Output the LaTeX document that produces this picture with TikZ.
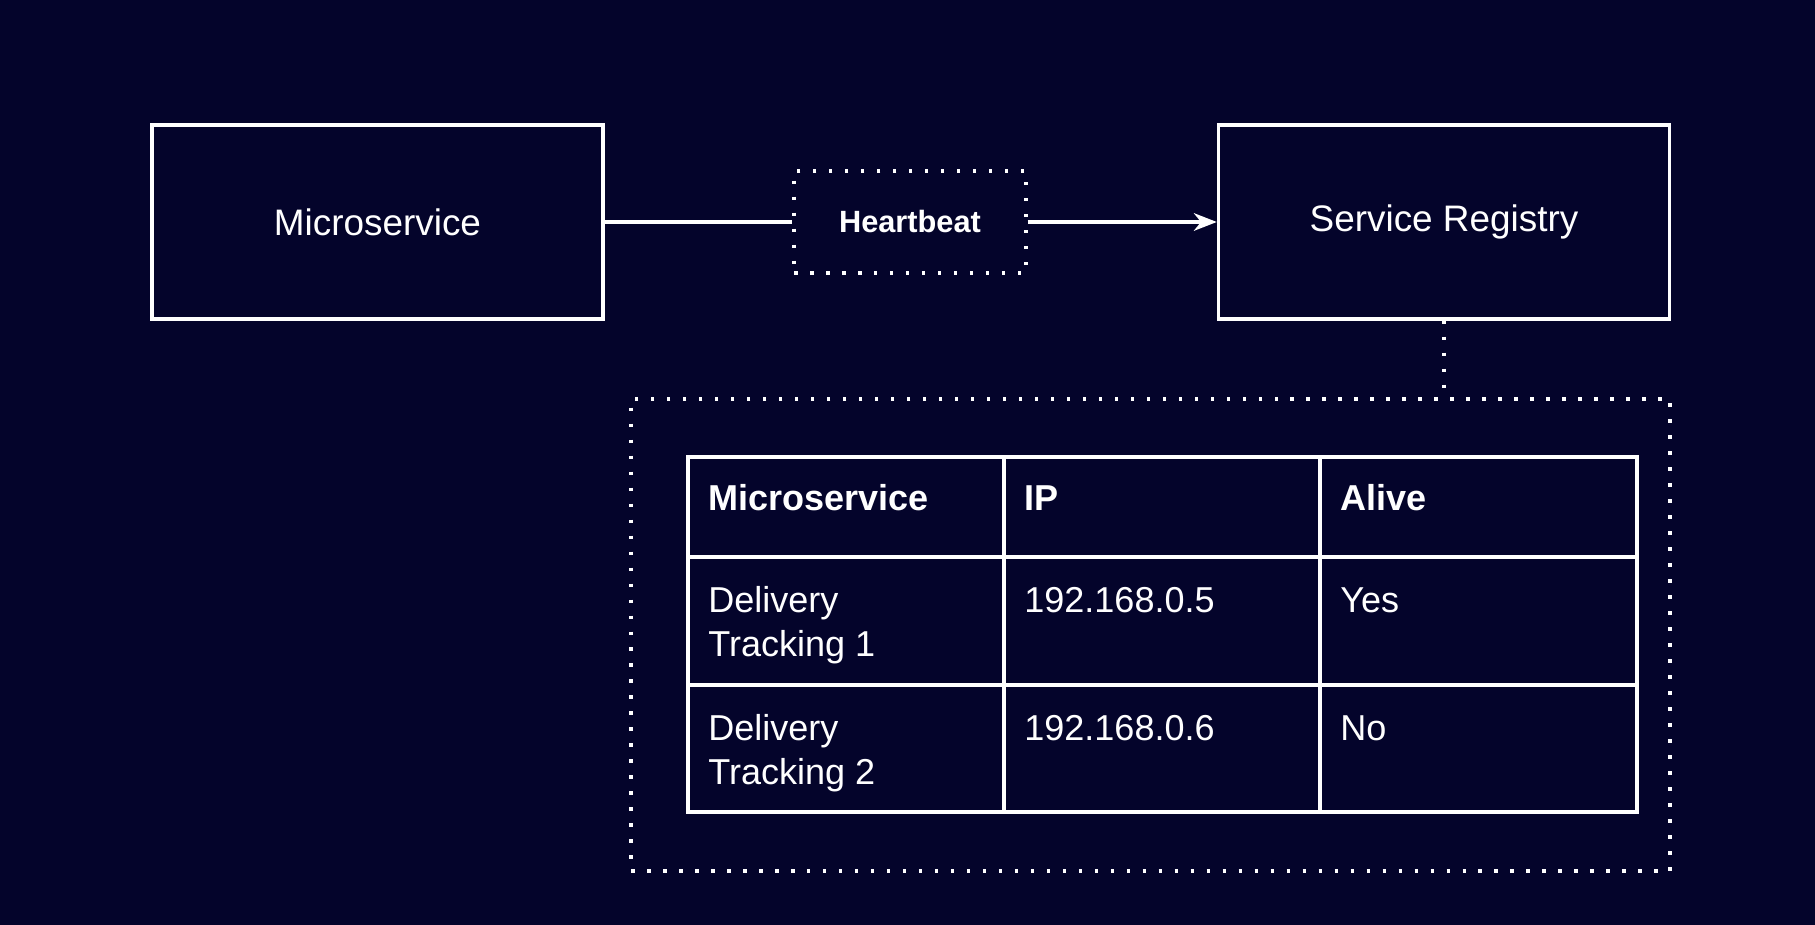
\documentclass[tikz,border=0pt]{standalone}
\usepackage{fontspec}
\setmainfont{Liberation Sans}
\usetikzlibrary{arrows.meta,positioning}
\definecolor{NightBg}{HTML}{04042B}
\definecolor{LineWhite}{HTML}{FFFFFF}
\newcommand{\twolines}[2]{\begin{tabular}[t]{@{}l@{}}#1\\#2\end{tabular}}
\tikzset{
    % Base box style
    basebox/.style={
        draw=LineWhite,
        line width=2pt,
        text=LineWhite,
        align=center
    },
    % Service box style
    servicebox/.style={
        basebox,
        minimum width=9.02cm,
        minimum height=3.88cm,
        font=\fontsize{21}{25}\selectfont
    },
    % Message box style
    msgbox/.style={
        basebox,
        dash pattern=on 2pt off 7.1pt,
        minimum width=4.64cm,
        minimum height=2.04cm,
        font=\fontsize{17.5}{21}\selectfont\bfseries
    },
    % Group box style
    groupbox/.style={
        basebox,
        dash pattern=on 2pt off 7.1pt,
        minimum width=20.78cm,
        minimum height=9.44cm,
        inner sep=0pt
    },
    % Table cell styles
    cellhead/.style={
        anchor=base west,
        inner sep=0pt,
        text=LineWhite,
        font=\fontsize{20.5}{25.6}\selectfont\bfseries
    },
    celltext/.style={
        anchor=base west,
        inner sep=0pt,
        text=LineWhite,
        font=\fontsize{20.5}{25.6}\selectfont
    },
    gridline/.style={
        draw=LineWhite,
        line width=2pt
    },
    % Connector styles
    myline/.style={
        draw=LineWhite,
        line width=2pt
    },
    myarrow/.style={
        myline,
        -{Stealth[length=13pt,width=10pt,inset=4pt]}
    },
    dotline/.style={
        myline,
        dash pattern=on 2pt off 7.1pt
    }
}
\begin{document}
\begin{tikzpicture}[x=0.02cm, y=-0.02cm]
    \fill[NightBg] (0,0) rectangle (1815,925);
    \useasboundingbox (0,0) rectangle (1815,925);

    \node[servicebox] (micro) at (377.5,222) {Microservice};
    \node[msgbox] (beat) at (910,222) {Heartbeat};
    \node[servicebox] (registry) at (1444,222) {Service Registry};
    \node[groupbox] (regtable) at (1150.5,635) {};

    \draw[myline] (micro) -- (beat);
    \draw[myarrow] (beat) -- (registry);
    \draw[dotline] (registry.south) -- (registry.south |- regtable.north);

    % registry table
    \draw[gridline] (688,457) rectangle (1637,812);
    \foreach \cx in {1004,1320}
        \draw[gridline] (\cx,457) -- (\cx,812);
    \foreach \ry in {557,685}
        \draw[gridline] (688,\ry) -- (1637,\ry);

    \node[cellhead] (hname) at (708,511) {Microservice};
    \node[cellhead] (hip) at (1024,511) {IP};
    \node[cellhead] (halive) at (1340,511) {Alive};

    \node[celltext] (name1) at (708,612) {\twolines{Delivery}{Tracking 1}};
    \node[celltext] (ip1) at (1024,612) {192.168.0.5};
    \node[celltext] (alive1) at (1340,612) {Yes};

    \node[celltext] (name2) at (708,740) {\twolines{Delivery}{Tracking 2}};
    \node[celltext] (ip2) at (1024,740) {192.168.0.6};
    \node[celltext] (alive2) at (1340,740) {No};
\end{tikzpicture}
\end{document}
